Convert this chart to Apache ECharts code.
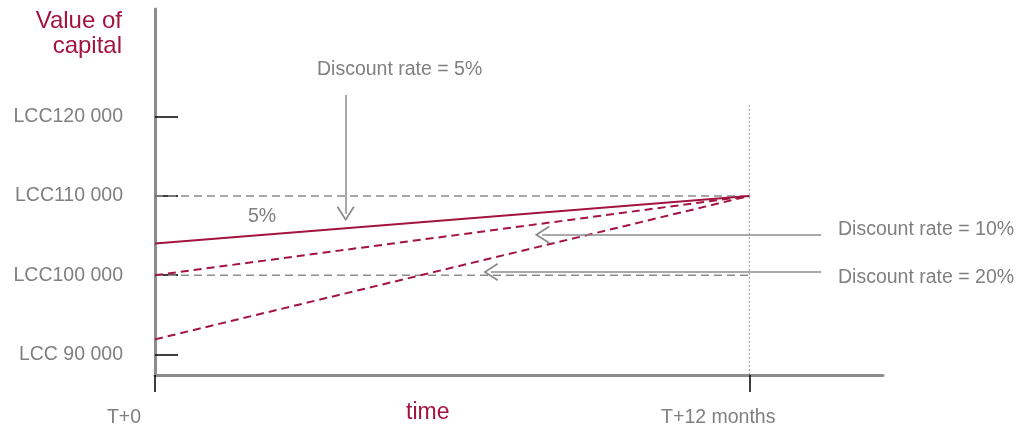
<!DOCTYPE html>
<html>
<head>
<meta charset="utf-8">
<script src="https://cdn.jsdelivr.net/npm/echarts@6/dist/echarts.min.js"></script>
<style>
html,body{margin:0;padding:0;background:#fff;}
#chart{width:1024px;height:430px;}
</style>
</head>
<body>
<div id="chart"></div>
<script>
// ---- data ----
const months = [0, 12];
const xTickValues = [0, 12];
const xTickLabels = ['T+0', 'T+12 months'];
const yTickValues = [90000, 100000, 110000, 120000];
const value5 = [104000, 110000];
const value10 = [100000, 110000];
const value20 = [91900, 110000];
const refLevels = [110000, 100000];
const horizonTop = 121500;
// annotation arrows: [fromX, fromY, toX, toY]
const arrow5 = [3.85, 122750, 3.85, 107750];
const arrow10 = [13.45, 105100, 7.82, 105100];
const arrow20 = [13.45, 100400, 6.78, 100400];

const RED = '#A3143F';
const GREY = '#8c8c8c';
const TXT = '#808080';
const FONT = "'Liberation Sans', Arial, sans-serif";
const Y_MIN = 87400, Y_MAX = 133600, X_MAX = 14.7;

const chart = echarts.init(document.getElementById('chart'), null, {renderer: 'canvas'});

function pair(vals) { return months.map((m, i) => [m, vals[i]]); }
function arrowItem(a) {
  return [{coord: [a[0], a[1]]}, {coord: [a[2], a[3]]}];
}
const chevron = 'path://M8,0 L16,13 L14.6,14 L8,3 L1.4,14 L0,13 Z';

const option = {
  animation: false,
  grid: {left: 155, right: 141, top: 9, bottom: 55},
  xAxis: {
    type: 'value', min: 0, max: X_MAX,
    splitLine: {show: false},
    axisLine: {show: true, lineStyle: {color: GREY, width: 3}},
    axisTick: {show: true, customValues: xTickValues, length: 17, lineStyle: {color: '#000', width: 1.5}},
    axisLabel: {
      show: true, customValues: xTickValues, margin: 33,
      color: TXT, fontSize: 19.5, fontFamily: FONT,
      padding: [0, 62, 0, 0],
      formatter: v => xTickLabels[xTickValues.indexOf(v)]
    }
  },
  yAxis: {
    type: 'value', min: Y_MIN, max: Y_MAX,
    splitLine: {show: false},
    axisLine: {show: true, lineStyle: {color: GREY, width: 3}},
    axisTick: {show: true, inside: true, customValues: yTickValues, length: 23, lineStyle: {color: '#000', width: 1.5}},
    axisLabel: {
      show: true, customValues: yTickValues, margin: 32,
      color: TXT, fontSize: 19.5, fontFamily: FONT,
      padding: [0, 0, 5, 0],
      formatter: v => 'LCC' + (v < 100000 ? ' ' : '') + (v / 1000) + ' 000'
    }
  },
  series: [
    {
      type: 'line', symbol: 'none', silent: true,
      data: pair([refLevels[0], refLevels[0]]),
      lineStyle: {color: GREY, width: 1.5, type: [8, 5]}
    },
    {
      type: 'line', symbol: 'none', silent: true,
      data: pair([refLevels[1], refLevels[1]]),
      lineStyle: {color: GREY, width: 1.5, type: [8, 5]}
    },
    {
      type: 'line', symbol: 'none', silent: true,
      data: [[months[1], horizonTop], [months[1], Y_MIN]],
      lineStyle: {color: GREY, width: 1, type: [2, 2]}
    },
    {
      name: '5%', type: 'line', symbol: 'none', silent: true,
      data: pair(value5),
      lineStyle: {color: RED, width: 2}
    },
    {
      name: '10%', type: 'line', symbol: 'none', silent: true,
      data: pair(value10),
      lineStyle: {color: RED, width: 2, type: [8, 5]}
    },
    {
      name: '20%', type: 'line', symbol: 'none', silent: true,
      data: pair(value20),
      lineStyle: {color: RED, width: 2, type: [8, 5]}
    },
    {
      type: 'line', data: [], silent: true,
      markLine: {
        silent: true, animation: false,
        symbol: ['none', chevron], symbolSize: [18, 15],
        label: {show: false},
        lineStyle: {color: GREY, width: 1.5, type: 'solid'},
        data: [arrowItem(arrow5), arrowItem(arrow10), arrowItem(arrow20)]
      }
    }
  ],
  graphic: [
    {type: 'text', right: 1024 - 122, top: 9, style: {text: 'Value of', fill: RED, font: '24px ' + FONT, align: 'right'}},
    {type: 'text', right: 1024 - 122, top: 34, style: {text: 'capital', fill: RED, font: '24px ' + FONT, align: 'right'}},
    {type: 'text', left: 406, top: 401, style: {text: 'time', fill: RED, font: '23px ' + FONT}},
    {type: 'text', left: 317, top: 60, style: {text: 'Discount rate = 5%', fill: TXT, font: '19.5px ' + FONT}},
    {type: 'text', left: 248, top: 207, style: {text: '5%', fill: TXT, font: '19.5px ' + FONT}},
    {type: 'text', left: 838, top: 220, style: {text: 'Discount rate = 10%', fill: TXT, font: '19.5px ' + FONT}},
    {type: 'text', left: 838, top: 268, style: {text: 'Discount rate = 20%', fill: TXT, font: '19.5px ' + FONT}}
  ]
};
chart.setOption(option);
</script>
</body>
</html>
